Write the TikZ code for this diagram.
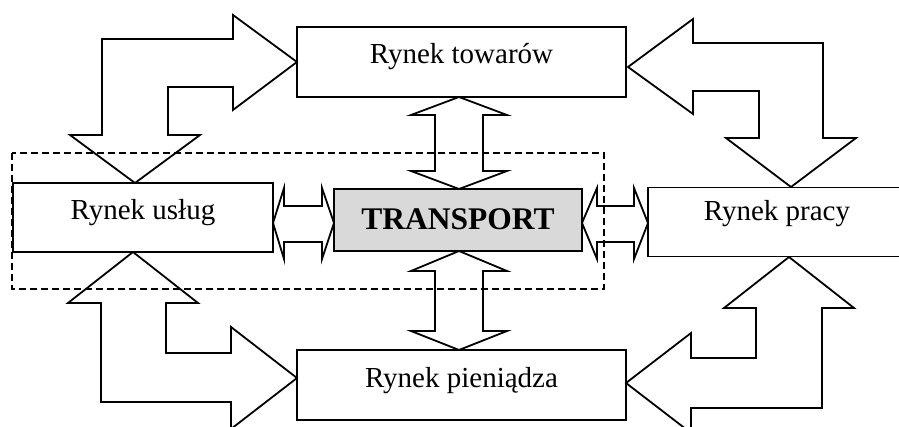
\documentclass[tikz,border=0pt]{standalone}
\usepackage{fontspec}
\setmainfont{Liberation Serif}
\begin{document}
\begin{tikzpicture}[x=1pt,y=-1pt,
  market/.style={draw,line width=1.8pt,fill=white,rectangle,inner sep=0pt,
    minimum height=70pt,font=\fontsize{29}{34}\selectfont,text depth=16pt},
  core/.style={market,fill=black!15,minimum height=62pt,
    font=\fontsize{31.5}{36}\selectfont\bfseries,text depth=8pt,text height=28pt},
  flow/.style={draw,line width=1.8pt,line join=miter},
  zone/.style={draw,line width=1.4pt,dash pattern=on 7pt off 4pt}]
\useasboundingbox (0,0) rectangle (899,427);
\clip (0,0) rectangle (899,427);

% markets and the transport block
\node[market,minimum width=329pt,text height=20pt] (tow) at (461.5,62) {Rynek towarów};
\node[market,minimum width=260pt,minimum height=69pt,text height=21pt] (usl) at (143,217.5) {Rynek usług};
\node[market,minimum width=258pt,minimum height=69pt,text height=14pt] (pra) at (777,222) {Rynek pracy};
\node[market,minimum width=329pt,text height=20pt] (pie) at (461.5,385) {Rynek pieniądza};
\node[core,minimum width=248pt] (tr) at (458,220) {TRANSPORT};

% bent block arrows between the outer markets
\draw[flow] (102,39) -- (233,39) -- (233,15) -- (297,62) -- (233,110) -- (233,87)
  -- (168,87) -- (168,135) -- (200,135) -- (135,183) -- (70,135) -- (102,135) -- cycle;
\draw[flow] (628,67) -- (693,19) -- (693,43) -- (823,43) -- (823,138) -- (856,138)
  -- (791,187) -- (726,138) -- (759,138) -- (759,91) -- (693,91) -- (693,114) -- cycle;
\draw[flow] (133,252) -- (198,303) -- (166,303) -- (166,353) -- (231,353) -- (231,327)
  -- (297,378) -- (231,429) -- (231,402) -- (101,402) -- (101,303) -- (68,303) -- cycle;
\draw[flow] (789,257) -- (854,308) -- (822,308) -- (822,408) -- (691,408) -- (691,433)
  -- (626,383) -- (691,333) -- (691,358) -- (756,358) -- (756,308) -- (724,308) -- cycle;

% double block arrows around the transport block
\draw[flow] (459,97) -- (507,115) -- (483,115) -- (483,171) -- (507,171) -- (459,189)
  -- (411,171) -- (435,171) -- (435,115) -- (411,115) -- cycle;
\draw[flow] (459,251) -- (507,271) -- (483,271) -- (483,331) -- (507,331) -- (459,350)
  -- (411,331) -- (435,331) -- (435,271) -- (411,271) -- cycle;
\draw[flow] (273,223) -- (284,188) -- (284,206) -- (322,206) -- (322,188) -- (334,223)
  -- (322,259) -- (322,242) -- (284,242) -- (284,259) -- cycle;
\draw[flow] (582,223) -- (597,188) -- (597,206) -- (634,206) -- (634,188) -- (648,223)
  -- (634,259) -- (634,242) -- (597,242) -- (597,259) -- cycle;

% dashed frame around services and transport
\draw[zone] (12,153) rectangle (604,289);
\end{tikzpicture}
\end{document}
